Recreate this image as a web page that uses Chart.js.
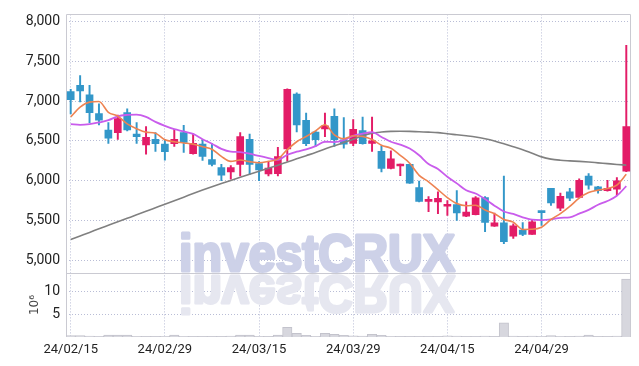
<!DOCTYPE html>
<html>
<head>
<meta charset="utf-8">
<script src="https://cdn.jsdelivr.net/npm/chart.js@4.4.1/dist/chart.umd.min.js"></script>
<style>
  body { margin: 0; background: #fff; }
  canvas { display: block; }
</style>
</head>
<body>
<canvas id="price-chart" width="639" height="366"></canvas>
<script>
// trading days (KRX), one candle each
const dates = [
  "24/02/15", "24/02/16", "24/02/19", "24/02/20", "24/02/21", "24/02/22", "24/02/23", "24/02/26", "24/02/27", "24/02/28",
  "24/02/29", "24/03/04", "24/03/05", "24/03/06", "24/03/07", "24/03/08", "24/03/11", "24/03/12", "24/03/13", "24/03/14",
  "24/03/15", "24/03/18", "24/03/19", "24/03/20", "24/03/21", "24/03/22", "24/03/25", "24/03/26", "24/03/27", "24/03/28",
  "24/03/29", "24/04/01", "24/04/02", "24/04/03", "24/04/04", "24/04/05", "24/04/08", "24/04/09", "24/04/11", "24/04/12",
  "24/04/15", "24/04/16", "24/04/17", "24/04/18", "24/04/19", "24/04/22", "24/04/23", "24/04/24", "24/04/25", "24/04/26",
  "24/04/29", "24/04/30", "24/05/02", "24/05/03", "24/05/07", "24/05/08", "24/05/09", "24/05/10", "24/05/13", "24/05/14"
];

const openPrices = [
  7120, 7200, 7080, 6845, 6635, 6605, 6855, 6585, 6450, 6520,
  6460, 6465, 6605, 6340, 6460, 6265, 6165, 6110, 6205, 6520,
  6215, 6085, 6090, 6400, 7090, 6760, 6610, 6650, 6810, 6515,
  6470, 6630, 6470, 6370, 6155, 6185, 6205, 5915, 5740, 5735,
  5680, 5700, 5555, 5575, 5790, 5430, 5470, 5305, 5380, 5325,
  5605, 5905, 5655, 5860, 5790, 6060, 5925, 5875, 5895, 6120
];
const highPrices = [
  7150, 7320, 7200, 6965, 6730, 6825, 6905, 6730, 6680, 6605,
  6520, 6645, 6695, 6590, 6520, 6470, 6205, 6190, 6605, 6585,
  6240, 6230, 6420, 7155, 7105, 6850, 6620, 6850, 6905, 6795,
  6770, 6800, 6800, 6440, 6375, 6210, 6210, 5995, 5800, 5860,
  5750, 5875, 5735, 5800, 5800, 5595, 6060, 5460, 5475, 5505,
  5610, 5905, 5845, 5905, 6025, 6090, 5930, 6005, 6040, 7700
];
const lowPrices = [
  6840, 6990, 6730, 6700, 6470, 6520, 6625, 6470, 6335, 6370,
  6260, 6430, 6355, 6335, 6255, 6185, 6000, 6020, 6060, 6080,
  6000, 6060, 6060, 6245, 6615, 6440, 6430, 6555, 6430, 6410,
  6440, 6460, 6370, 6110, 6150, 6065, 5965, 5735, 5610, 5585,
  5565, 5500, 5550, 5570, 5360, 5425, 5210, 5275, 5310, 5325,
  5440, 5690, 5625, 5750, 5790, 5895, 5845, 5870, 5815, 6115
];
const closePrices = [
  7020, 7130, 6855, 6760, 6535, 6780, 6640, 6555, 6545, 6465,
  6365, 6520, 6480, 6470, 6305, 6205, 6070, 6165, 6555, 6205,
  6135, 6160, 6305, 7150, 6700, 6465, 6515, 6690, 6515, 6460,
  6645, 6465, 6500, 6155, 6275, 6200, 5970, 5740, 5750, 5780,
  5700, 5595, 5605, 5785, 5475, 5470, 5235, 5435, 5325, 5485,
  5600, 5720, 5805, 5780, 6005, 5945, 5875, 5905, 6000, 6680
];

// moving averages as drawn on the reference
const ma5 = [
  6802, 6926, 6988, 6996, 6860, 6812, 6714, 6654, 6611, 6597,
  6514, 6490, 6475, 6460, 6428, 6396, 6306, 6243, 6260, 6240,
  6226, 6244, 6272, 6391, 6490, 6556, 6627, 6704, 6577, 6529,
  6565, 6555, 6517, 6445, 6408, 6319, 6220, 6068, 5987, 5888,
  5788, 5713, 5686, 5693, 5632, 5586, 5514, 5480, 5388, 5390,
  5416, 5513, 5587, 5678, 5782, 5851, 5882, 5902, 5946, 6081
];
const ma10 = [
  6711, 6703, 6711, 6732, 6761, 6810, 6827, 6831, 6802, 6740,
  6690, 6648, 6620, 6588, 6522, 6465, 6400, 6365, 6360, 6340,
  6311, 6285, 6262, 6326, 6365, 6395, 6436, 6490, 6486, 6510,
  6565, 6591, 6611, 6550, 6490, 6455, 6405, 6320, 6210, 6148,
  6050, 5967, 5880, 5840, 5770, 5687, 5614, 5583, 5541, 5511,
  5505, 5514, 5534, 5540, 5586, 5634, 5698, 5745, 5812, 5932
];
const ma60 = [
  5263, 5307, 5351, 5396, 5440, 5484, 5528, 5572, 5617, 5661,
  5705, 5750, 5794, 5839, 5883, 5925, 5965, 6004, 6043, 6082,
  6120, 6158, 6195, 6235, 6275, 6315, 6355, 6400, 6440, 6480,
  6520, 6565, 6598, 6612, 6620, 6622, 6620, 6615, 6611, 6605,
  6590, 6578, 6565, 6550, 6528, 6500, 6465, 6428, 6390, 6345,
  6300, 6272, 6258, 6250, 6243, 6235, 6225, 6215, 6205, 6196
];

// volume, millions of shares
const volumes = [
  0.3, 0.3, 0.2, 0.15, 0.4, 0.4, 0.4, 0.15, 0.1, 0.1,
  0.15, 0.4, 0.15, 0.1, 0.1, 0.1, 0.1, 0.2, 0.4, 0.4,
  0.15, 0.1, 0.4, 2.1, 0.8, 0.37, 0.15, 0.8, 0.6, 0.37,
  0.25, 0.2, 0.6, 0.37, 0.15, 0.1, 0.1, 0.1, 0.1, 0.05,
  0.25, 0.2, 0.1, 0.1, 0.2, 0.1, 3.1, 0.2, 0.1, 0.2,
  0.15, 0.3, 0.15, 0.1, 0.2, 0.4, 0.1, 0.1, 0.2, 12.7
];

const priceTicks = [5000, 5500, 6000, 6500, 7000, 7500, 8000];
const volumeTicks = [5, 10];

const upColor = "#e31c67";
const downColor = "#3397c9";
const gridColor = "#b9bdd6";
const frameColor = "#cacad2";
const yFont = { family: "Roboto, sans-serif", size: 14 };
const xFont = { family: "Roboto, sans-serif", size: 13 };

var candleColors = closePrices.map(function(c, i){
    return c >= openPrices[i] ? upColor : downColor;
});

// watermark with mirrored reflection + panel frame
var decorPlugin = {
    id: "decor",
    beforeDatasetsDraw: function(chart){
        var ctx = chart.ctx;
        var area = chart.chartArea;
        var volTop = chart.scales.vol.top;
        var text = "investCRUX";

        ctx.save();
        ctx.font = "bold 52px 'Liberation Sans', Arial, sans-serif";
        ctx.textBaseline = "alphabetic";
        ctx.lineJoin = "round";
        var sx = 276 / ctx.measureText(text).width;
        var left = area.left + 113;

        ctx.save();
        ctx.translate(left, volTop - 2);
        ctx.scale(sx, 1);
        ctx.fillStyle = "#cdd1e8";
        ctx.strokeStyle = "#cdd1e8";
        ctx.lineWidth = 3;
        ctx.strokeText(text, 0, 0);
        ctx.fillText(text, 0, 0);
        ctx.restore();

        ctx.save();
        ctx.translate(left, volTop + 3);
        ctx.scale(sx, -1);
        ctx.fillStyle = "#e6e7f0";
        ctx.strokeStyle = "#e6e7f0";
        ctx.lineWidth = 3;
        ctx.strokeText(text, 0, 0);
        ctx.fillText(text, 0, 0);
        ctx.restore();

        ctx.strokeStyle = frameColor;
        ctx.lineWidth = 1;
        var l = Math.round(area.left) + 0.5, t = Math.round(area.top) + 0.5;
        var r = Math.round(area.right) - 0.5, b = Math.round(area.bottom) - 0.5;
        ctx.strokeRect(l, t, r - l, b - t);
        ctx.beginPath();
        ctx.moveTo(l, Math.round(volTop) + 0.5);
        ctx.lineTo(r, Math.round(volTop) + 0.5);
        ctx.stroke();
        ctx.restore();
    }
};

function lineSet(label, data, color, width){
    return {
        type: "line",
        label: label,
        data: data,
        yAxisID: "y",
        borderColor: color,
        borderWidth: width,
        pointRadius: 0,
        cubicInterpolationMode: "monotone",
        order: 0
    };
}

new Chart(document.getElementById("price-chart"), {
    type: "bar",
    data: {
        labels: dates,
        datasets: [
            lineSet("MA5", ma5, "#ee8352", 1.6),
            lineSet("MA10", ma10, "#c95cec", 1.8),
            lineSet("MA60", ma60, "#808080", 1.6),
            {
                label: "wick",
                data: lowPrices.map(function(l, i){ return [l, highPrices[i]]; }),
                yAxisID: "y",
                backgroundColor: candleColors,
                barThickness: 1.3,
                grouped: false,
                order: 1
            },
            {
                label: "body",
                data: openPrices.map(function(o, i){ return [o, closePrices[i]]; }),
                yAxisID: "y",
                backgroundColor: candleColors,
                barThickness: 7,
                minBarLength: 2,
                grouped: false,
                order: 1
            },
            {
                label: "volume",
                data: volumes,
                yAxisID: "vol",
                backgroundColor: "#d7d7de",
                borderColor: "#c3c3cc",
                borderWidth: 1,
                barPercentage: 1,
                categoryPercentage: 1,
                grouped: false,
                order: 2
            }
        ]
    },
    options: {
        responsive: false,
        animation: false,
        layout: { padding: { left: 8, right: 8, top: 9, bottom: 0 } },
        plugins: { legend: { display: false }, tooltip: { enabled: false } },
        scales: {
            x: {
                offset: true,
                grid: { offset: false, color: gridColor, drawTicks: false },
                border: { display: false, dash: [1, 2] },
                ticks: { autoSkip: false, maxRotation: 0, padding: 5, color: "#222", font: xFont },
                afterBuildTicks: function(axis){
                    axis.ticks = axis.ticks.filter(function(t){ return t.value % 10 === 0; });
                },
                afterFit: function(axis){ axis.height = 29; }
            },
            // stacked panels are placed bottom-up, so volume goes first
            vol: {
                axis: "y",
                position: "left",
                stack: "panels",
                stackWeight: 65,
                min: 0,
                max: 14,
                grid: { color: gridColor, drawTicks: false },
                border: { display: false, dash: [1, 2] },
                title: {
                    display: true,
                    text: "10⁶",
                    color: "#444",
                    font: { family: "'DejaVu Sans', sans-serif", size: 12 },
                    padding: { top: 20, bottom: 0 }
                },
                ticks: { stepSize: 5, padding: 6, color: "#222", font: yFont },
                afterBuildTicks: function(axis){
                    axis.ticks = volumeTicks.map(function(v){ return { value: v }; });
                },
                afterFit: function(axis){ axis.width = 58; }
            },
            y: {
                position: "left",
                stack: "panels",
                stackWeight: 263,
                min: 4840,
                max: 8090,
                grid: { color: gridColor, drawTicks: false },
                border: { display: false, dash: [1, 2] },
                ticks: {
                    stepSize: 500,
                    padding: 6,
                    color: "#222",
                    font: yFont,
                    callback: function(v){ return v.toLocaleString("en-US"); }
                },
                afterBuildTicks: function(axis){
                    axis.ticks = priceTicks.map(function(v){ return { value: v }; });
                },
                afterFit: function(axis){ axis.width = 58; }
            }
        }
    },
    plugins: [decorPlugin]
});
</script>
</body>
</html>
